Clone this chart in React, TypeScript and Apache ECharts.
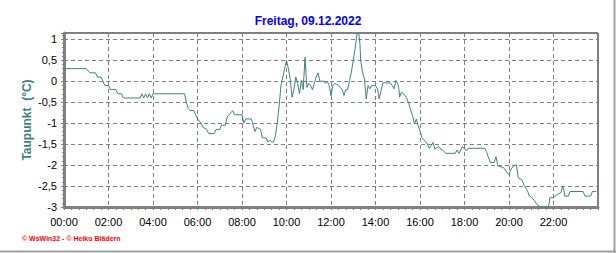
import React, { useEffect, useRef } from "react";
import * as echarts from "echarts";

const titleText = "Freitag, 09.12.2022";
const yAxisTitle = "Taupunkt  (°C)";
const footerText = "© WsWin32 - © Heiko Blädern";

const times: string[] = [
  "00:00", "01:00", "01:05", "01:10", "01:25", "01:30", "01:40", "01:45", "01:50", "02:00",
  "02:05", "02:20", "02:25", "02:35", "02:40", "03:25", "03:30", "03:35", "03:40", "03:45",
  "03:50", "03:55", "04:00", "04:05", "05:25", "05:30", "05:35", "05:40", "05:50", "05:55",
  "06:00", "06:10", "06:15", "06:25", "06:30", "06:45", "06:50", "07:00", "07:05", "07:15",
  "07:20", "07:25", "07:35", "07:40", "08:00", "08:05", "08:10", "08:25", "08:30", "08:35",
  "08:40", "08:50", "08:55", "09:05", "09:10", "09:15", "09:20", "09:25", "09:30", "09:35",
  "09:40", "09:45", "09:50", "09:55", "10:00", "10:05", "10:10", "10:15", "10:20", "10:25",
  "10:30", "10:35", "10:40", "10:45", "10:50", "10:55", "11:00", "11:05", "11:10", "11:15",
  "11:20", "11:25", "11:30", "11:40", "11:45", "11:50", "11:55", "12:00", "12:05", "12:10",
  "12:20", "12:25", "12:30", "12:35", "12:40", "12:45", "12:50", "12:55", "13:00", "13:05",
  "13:10", "13:15", "13:18", "13:20", "13:25", "13:30", "13:35", "13:40", "13:45", "13:50",
  "14:00", "14:05", "14:08", "14:10", "14:15", "14:20", "14:40", "14:45", "14:50", "14:55",
  "15:00", "15:03", "15:05", "15:10", "15:20", "15:25", "15:30", "15:35", "15:40", "15:45",
  "15:50", "15:55", "16:00", "16:05", "16:10", "16:15", "16:20", "16:25", "16:30", "16:35",
  "16:40", "16:50", "17:00", "17:10", "17:35", "17:40", "17:45", "17:55", "18:05", "18:10",
  "18:55", "19:00", "19:05", "19:10", "19:20", "19:25", "19:30", "19:45", "19:55", "20:00",
  "20:05", "20:15", "20:20", "20:25", "20:35", "20:40", "20:50", "20:55", "21:00", "21:10",
  "21:15", "21:25", "21:45", "21:48", "21:50", "22:00", "22:10", "22:20", "22:25", "22:28",
  "22:30", "22:40", "22:45", "23:20", "23:25", "23:40", "23:45", "23:55",
];

const dewPoint: number[] = [
  0.3, 0.3, 0.25, 0.2, 0.2, 0.1, 0.1, 0.0, -0.1, -0.1,
  -0.2, -0.2, -0.3, -0.3, -0.4, -0.4, -0.3, -0.4, -0.3, -0.4,
  -0.3, -0.4, -0.3, -0.3, -0.3, -0.5, -0.65, -0.7, -0.7, -0.8,
  -0.9, -1.0, -1.1, -1.15, -1.25, -1.25, -1.15, -1.15, -1.05, -1.05,
  -0.85, -0.8, -0.7, -0.8, -0.8, -1.0, -0.9, -0.9, -1.05, -1.2,
  -1.1, -1.15, -1.35, -1.35, -1.45, -1.4, -1.45, -1.45, -1.3, -1.0,
  -0.6, -0.1, 0.1, 0.3, 0.5, 0.3, 0.05, -0.38, -0.2, 0.1,
  -0.05, -0.3, 0.02, -0.2, 0.57, -0.15, -0.05, -0.1, -0.2, -0.05,
  0.1, 0.2, 0.0, 0.0, -0.05, 0.0, -0.1, -0.35, -0.1, -0.05,
  -0.1, -0.15, -0.2, -0.34, -0.2, -0.2, 0.02, 0.22, 0.5, 0.78,
  1.13, 1.13, 0.9, 0.5, 0.22, 0.06, -0.42, -0.1, -0.18, -0.1,
  -0.1, -0.18, -0.3, -0.42, -0.22, -0.04, -0.04, -0.1, -0.18, 0.02,
  -0.06, -0.18, -0.38, -0.26, -0.34, -0.42, -0.54, -0.7, -0.82, -1.02,
  -0.9, -1.06, -1.18, -1.34, -1.4, -1.44, -1.5, -1.6, -1.54, -1.46,
  -1.62, -1.56, -1.64, -1.72, -1.72, -1.64, -1.72, -1.56, -1.66, -1.6,
  -1.6, -1.7, -1.83, -1.94, -1.94, -1.8, -2.02, -2.06, -2.18, -2.23,
  -2.1, -2.0, -2.0, -2.3, -2.36, -2.47, -2.62, -2.74, -2.76, -2.86,
  -2.94, -3.0, -3.0, -2.94, -2.78, -2.78, -2.7, -2.66, -2.5, -2.6,
  -2.74, -2.74, -2.63, -2.63, -2.74, -2.74, -2.63, -2.63,
];

const toHours = (t: string) => {
  const [h, m] = t.split(":").map(Number);
  return h + m / 60;
};

export default function App() {
  const ref = useRef<HTMLDivElement>(null);

  useEffect(() => {
    if (!ref.current) return;
    const chart = echarts.init(ref.current, null, { renderer: "svg" });
    const data = times.map((t, i) => [toHours(t), dewPoint[i]]);
    const font = "'Liberation Sans', Arial, sans-serif";
    chart.setOption({
      animation: false,
      backgroundColor: "#ffffff",
      title: {
        text: titleText,
        left: "center",
        top: 10,
        textStyle: { color: "#0000ff", fontSize: 12, fontWeight: "bold", fontFamily: font },
      },
      grid: {
        left: 64,
        right: 18,
        top: 33,
        bottom: 46,
        show: true,
        borderColor: "#000000",
        borderWidth: 1,
        backgroundColor: "transparent",
      },
      xAxis: {
        type: "value",
        min: 0,
        max: 24,
        interval: 2,
        axisLine: { show: true, onZero: false, lineStyle: { color: "#808080", width: 3 } },
        axisTick: { show: true, length: 3, lineStyle: { color: "#808080", width: 1 } },
        minorTick: { show: true, splitNumber: 6, length: 3, lineStyle: { color: "#808080", width: 1 } },
        splitLine: { show: true, lineStyle: { color: "#808080", type: [4, 3], width: 1 } },
        axisLabel: {
          color: "#000000",
          fontSize: 11,
          fontFamily: font,
          margin: 9,
          showMaxLabel: false,
          formatter: (v: number) => (v >= 24 ? "" : (v < 10 ? "0" : "") + v + ":00"),
        },
      },
      yAxis: {
        type: "value",
        min: -3,
        max: 1.15,
        interval: 0.5,
        name: yAxisTitle,
        nameLocation: "middle",
        nameGap: 31,
        nameMoveOverlap: false,
        nameRotate: 90,
        nameTextStyle: { color: "#408080", fontSize: 12, fontWeight: "bold", fontFamily: font },
        axisLine: { show: true, onZero: false, lineStyle: { color: "#808080", width: 3 } },
        axisTick: { show: true, length: 3, lineStyle: { color: "#808080", width: 1 } },
        minorTick: { show: true, splitNumber: 5, length: 2, lineStyle: { color: "#808080", width: 1 } },
        splitLine: { show: true, lineStyle: { color: "#808080", type: [4, 3], width: 1 } },
        axisLabel: {
          color: "#000000",
          fontSize: 11,
          fontFamily: font,
          margin: 7,
          showMaxLabel: false,
          formatter: (v: number) => (Math.abs(v * 2 - Math.round(v * 2)) > 1e-6 ? "" : String(v).replace(".", ",")),
        },
      },
      series: [
        {
          type: "line",
          data,
          showSymbol: false,
          symbol: "none",
          clip: true,
          lineStyle: { color: "#408080", width: 1 },
        },
      ],
      graphic: [
        {
          type: "text",
          left: 22,
          top: 235,
          style: { text: footerText, fill: "#ff0000", font: `bold 7px ${font}` },
        },
        {
          type: "line",
          shape: { x1: 614.5, y1: 0, x2: 614.5, y2: 253 },
          style: { stroke: "#a0a0a0", lineWidth: 2 },
        },
        {
          type: "line",
          shape: { x1: 0, y1: 251.5, x2: 616, y2: 251.5 },
          style: { stroke: "#a0a0a0", lineWidth: 2 },
        },
      ],
    });
    return () => chart.dispose();
  }, []);

  return <div ref={ref} style={{ width: 616, height: 253, position: "absolute", left: 0, top: 0 }} />;
}
